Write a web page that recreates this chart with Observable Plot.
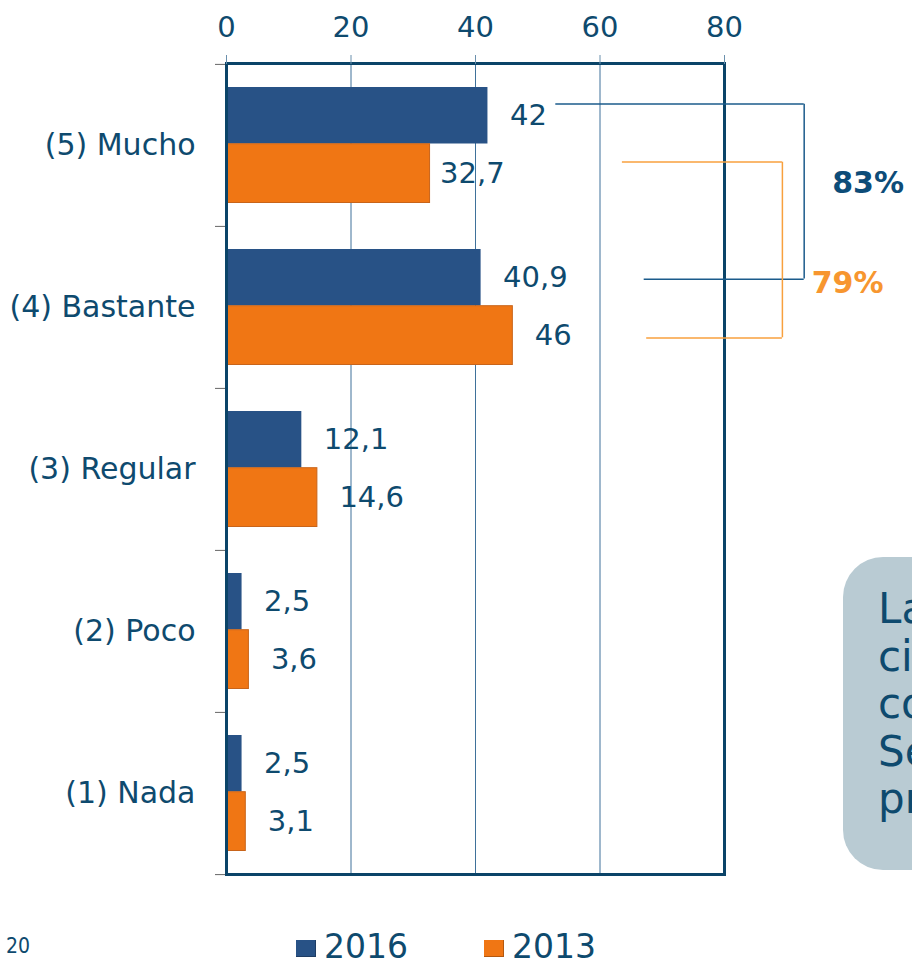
<!DOCTYPE html>
<html>
<head>
<meta charset="utf-8">
<script src="https://cdn.jsdelivr.net/npm/d3@7"></script>
<script src="https://cdn.jsdelivr.net/npm/@observablehq/plot@0.6"></script>
<style>
  html, body { margin: 0; padding: 0; background: #fff; overflow: hidden; }
  #wrap { position: relative; width: 912px; height: 960px; overflow: hidden; font-family: "DejaVu Sans", sans-serif; color: #0e4a6e; }
  #chart svg { display: block; }
  .callout { position: absolute; left: 843px; top: 557px; width: 240px; height: 313px; background: #b9cbd3; border-radius: 40px; box-sizing: border-box; padding: 28px 0 0 35px; font-size: 42px; line-height: 47.5px; white-space: nowrap; color: #0e4a6e; }
  .legend-item { position: absolute; top: 930px; font-size: 33px; line-height: 33px; color: #0e4a6e; }
  .swatch { position: absolute; top: 940px; width: 20px; height: 17px; box-sizing: border-box; }
  .page { position: absolute; left: 6px; top: 936px; font-family: "Liberation Sans Narrow", "DejaVu Sans Condensed", sans-serif; font-size: 21px; line-height: 21px; color: #0e4a6e; }
</style>
</head>
<body>
<div id="wrap">
  <div id="chart"></div>
  <div class="callout" id="callout"></div>
  <div id="legend"></div>
  <div class="page" id="page"></div>
</div>
<script>
// ---- data ----
const categories = ["(5) Mucho", "(4) Bastante", "(3) Regular", "(2) Poco", "(1) Nada"];
const years = ["2016", "2013"];
const values2016 = [42, 40.9, 12.1, 2.5, 2.5];
const values2013 = [32.7, 46, 14.6, 3.6, 3.1];
const xTicks = [0, 20, 40, 60, 80];
const gridValues = [20, 40, 60];
const calloutLines = ["La", "ciu", "co", "Se", "pr"];
const pageNumber = "20";

// ---- styles ----
const BLUE = "#285286", ORANGE = "#f07614", INK = "#0e4a6e";
const BRACKET_BLUE = "#1b5b8b", BRACKET_ORANGE = "#f8a03e";
const PCT_BLUE = "#0d4c78", PCT_ORANGE = "#f7962f";
const colors = {"2016": BLUE, "2013": ORANGE};

const W = 912, H = 900, mt = 63, mb = 26, ml = 226, mr = 188;
const bw = (H - mt - mb) / categories.length;

const rows = categories.map((c, i) => ({category: c, v2016: values2016[i], v2013: values2013[i]}));
const fmt = v => String(v).replace(".", ",");
const pct = arr => Math.round(arr[0] + arr[1]) + "%";
const pctRows = [
  {category: categories[0], label: pct(values2016)},
  {category: categories[1], label: pct(values2013)}
];
const first = () => categories[0], second = () => categories[1];

const plot = Plot.plot({
  width: W, height: H,
  marginTop: mt, marginBottom: mb, marginLeft: ml, marginRight: mr,
  style: {fontFamily: "DejaVu Sans, sans-serif", background: "white"},
  x: {domain: [0, 80], ticks: xTicks},
  y: {domain: categories, padding: 0},
  marks: [
    Plot.ruleX(gridValues, {stroke: "#3f719a", strokeWidth: 1}),
    Plot.barX(rows, {x: "v2016", y: "category", fill: BLUE, insetTop: 23, insetBottom: bw - 23 - 56.7}),
    Plot.barX(rows, {x: "v2013", y: "category", fill: ORANGE, stroke: "#c8641a", strokeWidth: 1, insetTop: 79.7, insetBottom: 23.5}),
    Plot.text(rows, {x: "v2016", y: "category", text: d => fmt(d.v2016), dx: 22, dy: 51.35 - bw / 2, textAnchor: "start", fontSize: 29, fill: INK}),
    Plot.text(rows, {filter: (d, i) => i !== 0, x: "v2013", y: "category", text: d => fmt(d.v2013), dx: 22, dy: 109.2 - bw / 2, textAnchor: "start", fontSize: 29, fill: INK}),
    Plot.text(rows, {filter: (d, i) => i === 0, x: "v2013", y: "category", text: d => fmt(d.v2013), dx: 10, dy: 109.2 - bw / 2, textAnchor: "start", fontSize: 29, fill: INK}),
    // left band ticks
    Plot.ruleY(categories, {y: d => d, x1: 0, x2: 0, insetLeft: -11, dy: -bw / 2, stroke: "#666", strokeWidth: 1}),
    Plot.ruleY([categories[categories.length - 1]], {y: d => d, x1: 0, x2: 0, insetLeft: -11, dy: bw / 2, stroke: "#666", strokeWidth: 1}),
    Plot.frame({stroke: "#0b4468", strokeWidth: 3}),
    // brackets
    Plot.ruleY([categories[0]], {y: d => d, x1: 52.9, x2: 92.8, dy: -41.4, stroke: BRACKET_BLUE, strokeWidth: 1.5}),
    Plot.ruleY([categories[1]], {y: d => d, x1: 67.1, x2: 92.8, dy: -28.3, stroke: BRACKET_BLUE, strokeWidth: 1.5}),
    Plot.ruleX([92.8], {x: d => d, y1: first, y2: second, insetTop: 39.7, insetBottom: 109.4, stroke: BRACKET_BLUE, strokeWidth: 1.5}),
    Plot.ruleY([categories[0]], {y: d => d, x1: 63.6, x2: 89.3, dy: 16.6, stroke: BRACKET_ORANGE, strokeWidth: 1.5}),
    Plot.ruleY([categories[1]], {y: d => d, x1: 67.5, x2: 89.3, dy: 30.4, stroke: BRACKET_ORANGE, strokeWidth: 1.5}),
    Plot.ruleX([89.3], {x: d => d, y1: first, y2: second, insetTop: 97.7, insetBottom: 50.7, stroke: BRACKET_ORANGE, strokeWidth: 1.5}),
    // percent labels
    Plot.text([pctRows[0]], {x: 97.3, y: "category", text: "label", dy: 37.4, textAnchor: "start", fontSize: 30, fontWeight: "bold", fill: PCT_BLUE}),
    Plot.text([pctRows[1]], {x: 94.0, y: "category", text: "label", dy: -23.8, textAnchor: "start", fontSize: 30, fontWeight: "bold", fill: PCT_ORANGE}),
    // axes
    Plot.axisX({anchor: "top", ticks: xTicks, tickSize: 9, tickPadding: 18, fontSize: 29, fill: INK, stroke: "#6b90ad", label: null}),
    Plot.axisY({anchor: "left", tickSize: 0, tickPadding: 31, fontSize: 30, fill: INK, label: null})
  ]
});
document.getElementById("chart").appendChild(plot);

// callout
document.getElementById("callout").innerHTML = calloutLines.map(s => `<div>${s}</div>`).join("");

// legend
const legend = document.getElementById("legend");
const legendPos = {"2016": 296, "2013": 484};
years.forEach(y => {
  const sw = document.createElement("div");
  sw.className = "swatch";
  sw.style.left = legendPos[y] + "px";
  sw.style.background = colors[y];
  sw.style.borderRight = "1px solid rgba(0,0,0,0.25)";
  sw.style.borderBottom = "1px solid rgba(0,0,0,0.25)";
  legend.appendChild(sw);
  const t = document.createElement("div");
  t.className = "legend-item";
  t.style.left = (legendPos[y] + 28) + "px";
  t.textContent = y;
  legend.appendChild(t);
});
document.getElementById("page").textContent = pageNumber;
</script>
</body>
</html>
